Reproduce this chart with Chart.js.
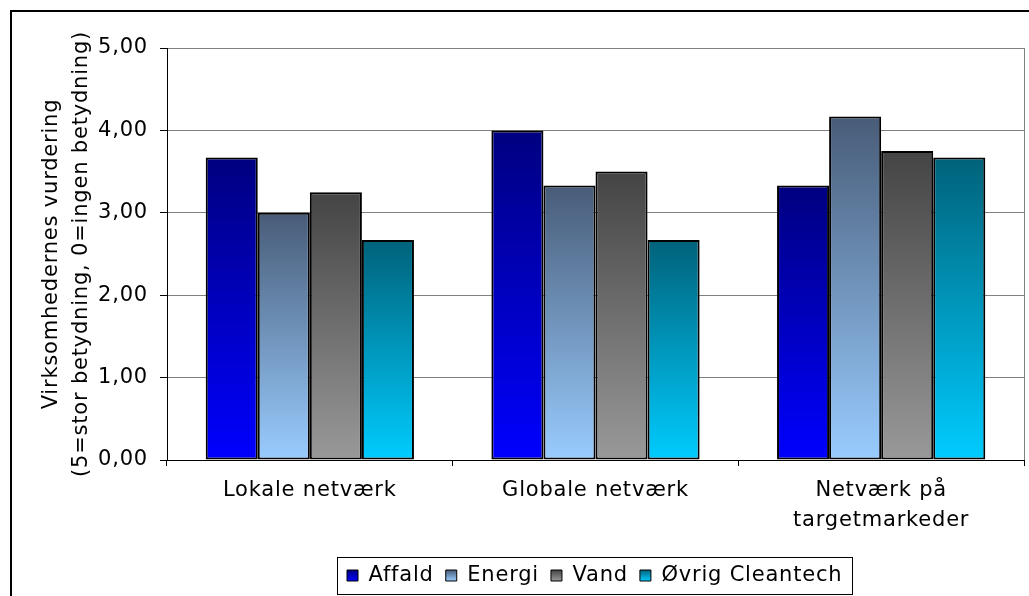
<!DOCTYPE html>
<html lang="da">
<head>
<meta charset="utf-8">
<title>Netværkenes betydning</title>
<script src="https://cdn.jsdelivr.net/npm/chart.js@4.4.1/dist/chart.umd.min.js"></script>
<style>
  html, body { margin: 0; padding: 0; background: #fff; overflow: hidden; }
  #wrap { position: relative; width: 1029px; height: 596px; }
</style>
</head>
<body>
<div id="wrap"><canvas id="c" width="1029" height="596"></canvas></div>
<script>
// Data
const categories = ['Lokale netværk', 'Globale netværk', ['Netværk på', 'targetmarkeder']];
const seriesNames = ['Affald', 'Energi', 'Vand', 'Øvrig Cleantech'];
const affald = [3.67, 4.00, 3.33];
const energi = [3.00, 3.33, 4.17];
const vand   = [3.25, 3.50, 3.75];
const oevrig = [2.67, 2.67, 3.67];
const yTickLabels = ['0,00', '1,00', '2,00', '3,00', '4,00', '5,00'];
const axisTitle = ['Virksomhedernes vurdering', '(5=stor betydning, 0=ingen betydning)'];

// Top / bottom colours of each series' vertical gradient
const shades = [
  ['#000080', '#0000ff'],
  ['#485c78', '#99ccff'],
  ['#444444', '#999999'],
  ['#00627a', '#00ccff']
];

const FONT = 'DejaVu Sans';
const FONT_SIZE = 21;
const SPACING = '0.8px';
Chart.defaults.font.family = FONT;
Chart.defaults.font.size = FONT_SIZE;
Chart.defaults.color = '#000';

function barFill(i) {
  return (ctx) => {
    const chart = ctx.chart;
    const y = chart.scales.y;
    if (!chart.chartArea || !y || ctx.type !== 'data') return shades[i][1];
    const top = y.getPixelForValue(ctx.parsed.y);
    const base = y.getPixelForValue(0);
    const g = chart.ctx.createLinearGradient(0, top, 0, base);
    g.addColorStop(0, shades[i][0]);
    g.addColorStop(1, shades[i][1]);
    return g;
  };
}

const LEGEND_PAD = 12;
const LEGEND_BOX = 11;
const LEGEND_START = 347;

// Letter spacing for all canvas text (context state is reset whenever the canvas is resized)
const spacing = {
  id: 'spacing',
  beforeUpdate(chart) { chart.ctx.letterSpacing = SPACING; },
  beforeLayout(chart) { chart.ctx.letterSpacing = SPACING; },
  beforeDraw(chart) { chart.ctx.letterSpacing = SPACING; }
};

// Legend placement, gradient swatches, frame and plot border
const decor = {
  id: 'decor',
  afterLayout(chart) {
    const l = chart.legend;
    const start = (l.left + LEGEND_PAD + l.right - l.lineWidths[0]) / 2;
    const shift = LEGEND_START - start;
    l.left += shift;
    l.right += shift;
  },
  beforeDraw(chart) {
    const l = chart.legend;
    const ctx = chart.ctx;
    const boxTop = l.top + LEGEND_PAD + (FONT_SIZE - LEGEND_BOX) / 2;
    l.legendItems.forEach((it, i) => {
      const g = ctx.createLinearGradient(0, boxTop, 0, boxTop + LEGEND_BOX);
      g.addColorStop(0, shades[i][0]);
      g.addColorStop(1, shades[i][1]);
      it.fillStyle = g;
    });
  },
  afterDraw(chart) {
    const ctx = chart.ctx;
    const a = chart.chartArea;
    const l = chart.legend;
    ctx.save();
    // outer frame
    ctx.strokeStyle = '#000';
    ctx.lineWidth = 2;
    ctx.strokeRect(11, 11, 1200, 800);
    // right edge of plot area
    ctx.strokeStyle = '#808080';
    ctx.lineWidth = 1;
    ctx.beginPath();
    ctx.moveTo(Math.round(a.right) + 0.5, a.top);
    ctx.lineTo(Math.round(a.right) + 0.5, a.bottom);
    ctx.stroke();
    // legend frame
    const start = (l.left + LEGEND_PAD + l.right - l.lineWidths[0]) / 2;
    const end = start + l.lineWidths[0] - LEGEND_PAD;
    ctx.strokeStyle = '#000';
    ctx.strokeRect(Math.round(start - 10) + 0.5, Math.round(l.top + 4) + 0.5,
                   Math.round(end - start + 20), Math.round(l.bottom - l.top - 6));
    ctx.restore();
  }
};

const series = [affald, energi, vand, oevrig];
const datasets = series.map((values, i) => ({
  label: seriesNames[i],
  data: values,
  backgroundColor: barFill(i),
  borderColor: '#000',
  borderWidth: 2,
  borderSkipped: false,
  categoryPercentage: 0.729,
  barPercentage: 1.0
}));

new Chart(document.getElementById('c'), {
  type: 'bar',
  data: { labels: categories, datasets },
  options: {
    responsive: false,
    animation: false,
    events: [],
    layout: { padding: { top: 48, right: 5, bottom: 0, left: 0 } },
    plugins: {
      tooltip: { enabled: false },
      legend: {
        position: 'bottom',
        labels: {
          boxWidth: LEGEND_BOX,
          boxHeight: LEGEND_BOX,
          padding: LEGEND_PAD,
          color: '#000',
          font: { family: FONT, size: FONT_SIZE },
          generateLabels(chart) {
            const items = Chart.defaults.plugins.legend.labels.generateLabels(chart);
            items.forEach(it => { it.lineWidth = 1; it.strokeStyle = '#000'; });
            return items;
          }
        }
      }
    },
    scales: {
      x: {
        grid: { drawOnChartArea: false, offset: true, tickLength: 6, tickColor: '#000' },
        border: { color: '#000', width: 1 },
        ticks: {
          padding: 10, color: '#000', maxRotation: 0, autoSkip: false,
          font: { family: FONT, size: FONT_SIZE, lineHeight: 1.4 }
        },
        afterFit(s) { s.height = 93; }
      },
      y: {
        min: 0, max: 5,
        ticks: {
          stepSize: 1, padding: 12, color: '#000',
          font: { family: FONT, size: FONT_SIZE },
          callback: (v) => yTickLabels[Math.round(v)]
        },
        grid: { color: '#808080', lineWidth: 1, tickLength: 7, tickColor: '#000' },
        border: { color: '#000', width: 1 },
        title: {
          display: true, text: axisTitle, color: '#000',
          font: { family: FONT, size: FONT_SIZE, lineHeight: 1.4 },
          padding: { top: 37, bottom: 0 }
        },
        afterFit(s) { s.width = 167; }
      }
    }
  },
  plugins: [spacing, decor]
});
</script>
</body>
</html>
